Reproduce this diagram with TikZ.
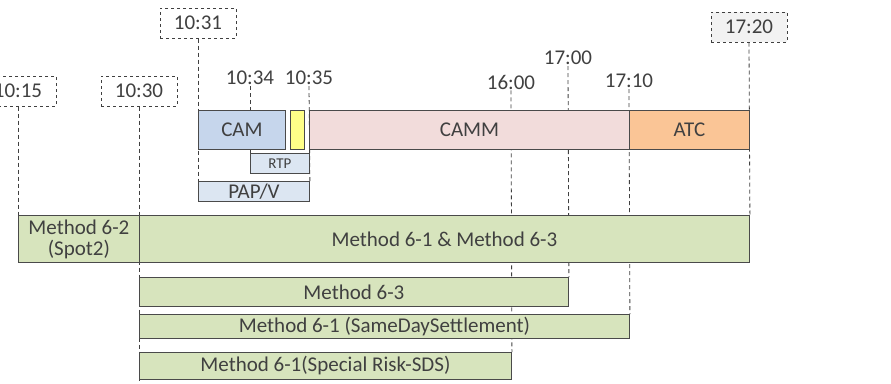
\documentclass[tikz,border=0pt]{standalone}
\usepackage{fontspec}
\setmainfont{Carlito}
\usetikzlibrary{backgrounds}
\definecolor{txtgray}{HTML}{404040}
\definecolor{edgegray}{HTML}{4A4A4A}
\definecolor{camblue}{HTML}{C6D6EC}
\definecolor{rtpblue}{HTML}{DCE6F2}
\definecolor{pinkish}{HTML}{F2DCDB}
\definecolor{atcorange}{HTML}{FAC596}
\definecolor{yel}{HTML}{FFFF88}
\definecolor{methgreen}{HTML}{D7E4BD}
\definecolor{stampgray}{HTML}{F2F2F2}
\begin{document}
\begin{tikzpicture}[x=1pt,y=-1pt,
  every node/.style={text=txtgray, font=\fontsize{21}{21}\selectfont},
  blk/.style={draw=edgegray, line width=0.9pt, inner sep=0pt, anchor=north west},
  stamp/.style={draw=txtgray, dashed, line width=1pt, minimum width=76pt,
    minimum height=30pt, inner sep=0pt, fill=white},
  tick/.style={inner sep=1pt},
  tline/.style={draw=txtgray, line width=0.8pt, dash pattern=on 4pt off 3pt}]
\useasboundingbox (0,0) rectangle (891,383);

% phases of the day
\node[blk, fill=camblue, minimum width=87pt, minimum height=39pt] (cam) at (198,110) {CAM};
\node[blk, fill=yel, minimum width=14pt, minimum height=39pt] (gap) at (290,110) {};
\node[blk, fill=pinkish, minimum width=320pt, minimum height=39pt] (camm) at (309,110) {CAMM};
\node[blk, fill=atcorange, minimum width=120pt, minimum height=39pt] (atc) at (629,110) {ATC};
\node[blk, fill=rtpblue, minimum width=59pt, minimum height=20pt,
  font=\fontsize{15}{15}\selectfont] (rtp) at (250,153) {RTP};
\node[blk, fill=rtpblue, minimum width=111pt, minimum height=20pt] (pap) at (198,181) {PAP/V};

% methods
\node[blk, fill=methgreen, minimum width=121pt, minimum height=47pt, align=center] (spot) at (18,215) {Method 6-2\\(Spot2)};
\node[blk, fill=methgreen, minimum width=610pt, minimum height=47pt] (both) at (139,215) {Method 6-1 \& Method 6-3};
\node[blk, fill=methgreen, minimum width=429pt, minimum height=29pt] (m63) at (139,277) {Method 6-3};
\node[blk, fill=methgreen, minimum width=490pt, minimum height=24pt] (sameday) at (139,314) {Method 6-1 (SameDaySettlement)};
\node[blk, fill=methgreen, minimum width=372pt, minimum height=27pt] (risk) at (139,352) {Method 6-1(Special Risk-SDS)};

% times
\node[stamp] (t1015) at (18,91) {10:15};
\node[stamp] (t1030) at (139,91) {10:30};
\node[stamp] (t1031) at (198,23) {10:31};
\node[stamp, fill=stampgray] (t1720) at (749,27) {17:20};
\node[tick] (t1034) at (250,78) {10:34};
\node[tick] (t1035) at (309,78) {10:35};
\node[tick] (t1600) at (511,82) {16:00};
\node[tick] (t1700) at (568,58) {17:00};
\node[tick] (t1710) at (629,81) {17:10};

\begin{pgfonlayer}{background}
\draw[tline] (t1015.south) -- (spot.north west);
\draw[tline] (t1030.south) -- (risk.south west);
\draw[tline] (t1031.south) -- (pap.north west);
\draw[tline] (t1034.south) -- (rtp.north west);
\draw[tline] (t1035.south) -- (pap.north east);
\draw[tline] (t1600.south) -- (risk.north east);
\draw[tline] (t1700.south) -- (m63.north east);
\draw[tline] (t1710.south) -- (sameday.north east);
\draw[tline] (t1720.south) -- (both.north east);
\end{pgfonlayer}
\end{tikzpicture}
\end{document}
